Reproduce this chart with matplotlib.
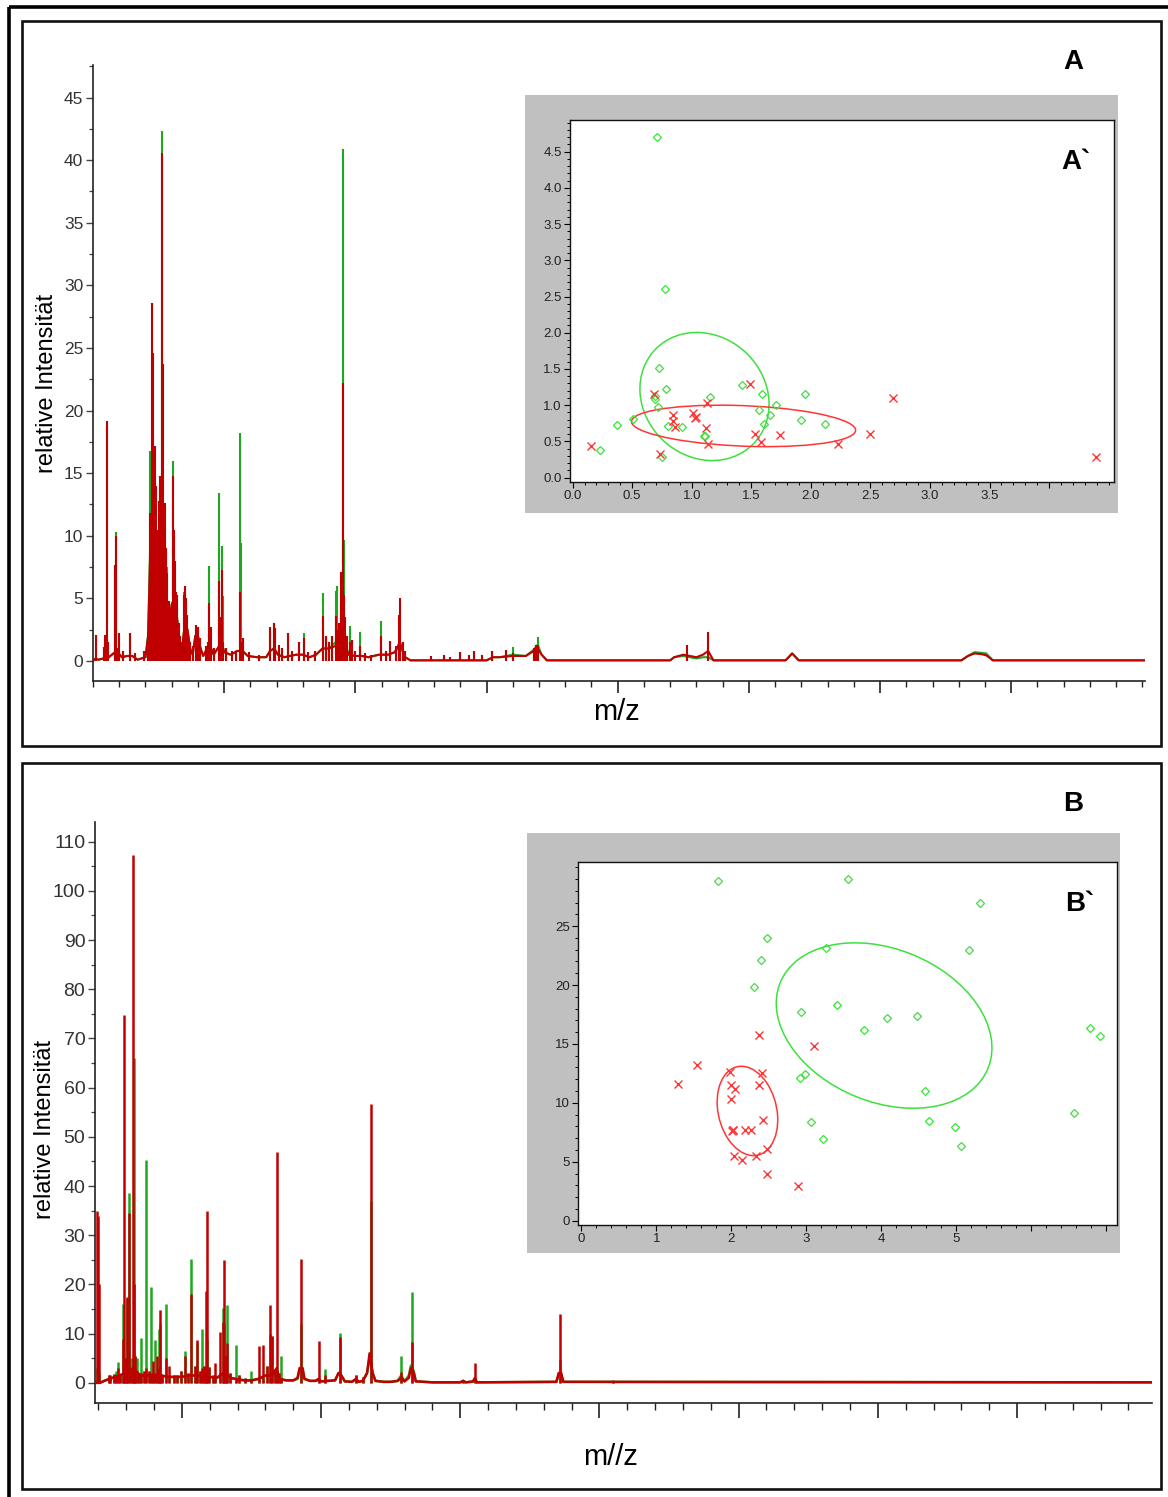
import numpy as np
import matplotlib
matplotlib.use("Agg")
import matplotlib.pyplot as plt
from matplotlib.patches import Rectangle, Ellipse
import matplotlib.transforms as transforms
from matplotlib.ticker import MultipleLocator

plt.rcParams['font.family'] = ['Liberation Sans', 'DejaVu Sans']

# ------------------------------------------------------------------ data
# Panel A spectrum: stick peaks (m/z, green height, red height)
a_peak_mz = [102.5, 108.1, 109.3, 110.6, 111.8, 116.9, 117.6, 118.6, 119.9, 123.2,
             128.2, 132.0, 138.8, 142.1, 143.3, 144.6, 145.8, 146.6, 147.4, 148.1,
             148.9, 149.6, 150.4, 151.4, 152.6, 153.7, 154.7, 155.4, 156.2, 157.2,
             158.2, 159.2, 160.7, 161.5, 162.2, 163.2, 164.2, 165.2, 166.5, 167.8,
             169.3, 170.3, 171.0, 171.8, 172.8, 174.1, 176.1, 178.6, 180.4, 181.9,
             186.1, 187.7, 188.7, 189.9, 192.4, 195.7, 197.0, 198.2, 199.2, 201.3,
             206.3, 208.8, 212.1, 213.1, 214.4, 218.9, 226.4, 235.3, 237.8, 239.0,
             241.6, 244.1, 248.6, 251.6, 256.7, 261.2, 264.2, 269.3, 275.1, 277.3,
             279.8, 282.4, 284.9, 285.9, 287.7, 289.4, 290.7, 291.4, 292.4, 293.9,
             296.2, 297.7, 299.5, 303.3, 307.0, 312.1, 319.6, 323.4, 326.4, 331.0,
             333.5, 334.3, 336.0, 337.8, 357.4, 367.5, 372.5, 380.0, 386.4, 390.2,
             396.5, 404.0, 415.0, 420.0, 436.0, 438.0, 439.0, 553.0, 569.0]
a_peak_green = [2.1, 1.1, 1.5, 1.5, 1.5, 7.7, 10.3, 1.0, 2.2, 0.8,
                2.2, 0.6, 0.8, 2.2, 16.8, 15.0, 15.8, 12.5, 14.0, 9.0,
                10.2, 10.5, 9.0, 14.8, 42.3, 12.0, 12.5, 9.0, 7.5, 4.5,
                4.8, 4.0, 16.0, 10.0, 7.5, 5.5, 5.3, 3.0, 2.0, 1.5,
                5.5, 6.0, 5.0, 3.7, 2.2, 1.5, 1.2, 2.9, 2.7, 1.8,
                1.2, 1.5, 7.6, 2.7, 1.0, 13.4, 3.5, 9.2, 5.2, 1.0,
                0.8, 0.8, 18.2, 9.4, 1.8, 0.7, 0.5, 2.7, 3.0, 2.6,
                1.3, 1.0, 2.2, 0.8, 1.5, 2.2, 0.7, 0.8, 5.4, 2.0,
                1.5, 2.0, 5.6, 6.0, 3.0, 7.1, 40.9, 9.7, 3.5, 2.0,
                2.8, 1.7, 0.8, 2.3, 0.6, 0.5, 3.2, 0.8, 1.6, 1.2,
                1.4, 1.3, 1.5, 0.8, 0.4, 0.5, 0.3, 0.7, 0.5, 0.8,
                0.5, 0.8, 0.9, 1.1, 1.0, 1.3, 1.9, 0.6, 0.4]
a_peak_red = [2.1, 1.1, 2.1, 19.2, 1.5, 7.7, 10.0, 1.0, 2.2, 0.8,
              2.2, 0.6, 0.8, 2.2, 11.8, 28.6, 24.6, 15.0, 17.2, 14.0,
              10.0, 10.5, 12.8, 14.8, 40.6, 23.7, 12.6, 9.0, 7.0, 4.5,
              4.8, 4.0, 14.8, 10.5, 8.0, 5.5, 5.3, 3.0, 2.0, 1.5,
              5.3, 6.0, 5.0, 3.7, 2.2, 1.5, 1.2, 2.9, 2.7, 1.8,
              1.2, 1.5, 4.6, 2.7, 1.0, 6.4, 3.5, 7.3, 1.5, 1.0,
              0.8, 0.8, 5.5, 1.5, 1.8, 0.7, 0.5, 2.7, 3.0, 2.6,
              1.3, 1.0, 2.2, 0.8, 1.5, 1.8, 0.7, 0.8, 3.6, 2.0,
              1.5, 2.0, 3.6, 2.5, 3.0, 7.1, 22.2, 5.3, 3.5, 2.0,
              1.5, 1.7, 0.8, 1.2, 0.6, 0.5, 2.0, 0.8, 1.6, 1.2,
              3.7, 5.0, 1.5, 0.8, 0.4, 0.5, 0.3, 0.7, 0.5, 0.8,
              0.5, 0.8, 0.9, 0.6, 1.0, 1.3, 1.3, 1.3, 2.3]

# Panel A spectrum: continuum trace (m/z, green level, red level)
a_base_mz = [100, 102, 104, 112, 118, 122, 126, 130, 134, 140, 142, 144, 146, 148,
             150, 152, 154, 156, 158, 160, 162, 164, 166, 168, 170, 172, 174, 176,
             178, 180, 182, 184, 186, 188, 190, 192, 195, 198, 200, 205, 210, 214,
             218, 225, 232, 235, 238, 241, 246, 250, 255, 260, 265, 270, 275, 280,
             285, 289, 292, 295, 300, 305, 310, 318, 325, 330, 334, 338, 342, 400,
             405, 410, 420, 430, 436, 439, 442, 446, 540, 543, 550, 560, 565, 569,
             573, 628, 633, 638, 762, 767, 772, 777, 781, 786, 902]
a_base_green = [0.0, 0.2, 0.1, 0.3, 0.8, 0.3, 0.4, 0.4, 0.1, 0.3, 2.0, 11.0, 12.0, 8.0,
                8.5, 11.0, 9.0, 5.0, 3.0, 4.5, 5.0, 3.5, 1.5, 1.0, 3.0, 2.5, 1.0, 0.5,
                2.0, 2.0, 1.0, 0.4, 0.8, 1.2, 1.0, 0.5, 1.0, 1.5, 0.7, 0.5, 0.8, 0.8,
                0.4, 0.3, 0.3, 0.8, 1.0, 0.5, 0.3, 0.4, 0.5, 0.5, 0.3, 0.5, 1.0, 1.0,
                1.5, 2.0, 1.5, 0.5, 0.4, 0.4, 0.3, 0.5, 0.5, 0.7, 1.2, 0.3, 0.05, 0.05,
                0.3, 0.3, 0.5, 0.4, 0.9, 1.3, 0.5, 0.05, 0.05, 0.3, 0.4, 0.2, 0.3, 0.3,
                0.05, 0.05, 0.6, 0.05, 0.05, 0.4, 0.7, 0.65, 0.6, 0.05, 0.05]
a_base_red = [0.0, 0.2, 0.1, 0.3, 0.8, 0.3, 0.4, 0.4, 0.1, 0.3, 2.0, 10.0, 12.0, 8.0,
              8.5, 10.0, 9.0, 5.0, 3.0, 4.5, 5.0, 3.5, 1.5, 1.0, 3.0, 2.5, 1.0, 0.5,
              2.0, 2.0, 1.0, 0.4, 0.8, 1.2, 1.0, 0.5, 1.0, 1.5, 0.7, 0.5, 0.8, 0.8,
              0.4, 0.3, 0.3, 0.8, 1.0, 0.5, 0.3, 0.4, 0.5, 0.5, 0.3, 0.5, 1.0, 1.0,
              1.2, 1.5, 1.2, 0.5, 0.4, 0.4, 0.3, 0.5, 0.5, 0.7, 1.5, 0.3, 0.05, 0.05,
              0.3, 0.3, 0.4, 0.4, 0.8, 1.0, 0.5, 0.05, 0.05, 0.3, 0.5, 0.3, 0.5, 0.8,
              0.05, 0.05, 0.6, 0.05, 0.05, 0.4, 0.6, 0.55, 0.45, 0.05, 0.05]

# Panel B spectrum: stick peaks
b_peak_mz = [139.0, 139.7, 140.4, 147.4, 148.6, 151.0, 152.9, 154.1, 155.7, 157.7,
             158.6, 159.6, 160.5, 162.0, 163.6, 164.8, 165.6, 166.5, 167.7, 169.1,
             170.8, 172.5, 174.4, 176.1, 178.0, 178.9, 180.6, 182.1, 183.3, 184.2,
             185.6, 188.5, 190.9, 194.0, 196.4, 199.0, 202.4, 204.3, 206.5, 209.1,
             210.8, 213.2, 214.4, 216.0, 217.2, 218.2, 219.4, 222.0, 223.9, 227.5,
             229.2, 230.4, 231.3, 232.5, 234.2, 239.0, 240.7, 245.5, 249.8, 255.5,
             258.1, 261.0, 263.4, 264.6, 266.7, 268.4, 269.4, 271.3, 285.6, 298.6,
             303.1, 313.6, 325.1, 330.4, 335.9, 357.2, 365.3, 402.2, 410.5, 471.6,
             510.0]
b_peak_green = [3.0, 3.0, 2.0, 1.5, 1.0, 1.8, 2.5, 4.3, 1.5, 16.0,
                5.0, 5.0, 17.0, 38.5, 5.0, 5.0, 66.0, 5.5, 5.0, 2.0,
                9.2, 2.5, 45.2, 2.5, 19.4, 2.0, 8.8, 2.0, 11.0, 12.0,
                1.5, 16.1, 1.5, 1.5, 1.5, 2.4, 6.4, 2.0, 25.2, 3.5,
                8.0, 2.5, 10.9, 3.5, 3.0, 9.0, 3.2, 1.5, 1.5, 2.0,
                15.2, 12.0, 5.5, 15.8, 2.0, 7.7, 1.5, 1.0, 2.4, 1.0,
                1.0, 3.5, 10.0, 9.5, 2.8, 2.0, 2.0, 5.5, 12.0, 1.0,
                2.8, 10.2, 1.6, 1.2, 37.0, 5.5, 18.5, 0.4, 1.0, 4.6,
                0.6]
b_peak_red = [35.0, 34.0, 20.0, 1.5, 1.5, 1.8, 1.5, 3.0, 1.5, 9.0,
              74.8, 5.0, 17.4, 34.5, 3.0, 107.3, 20.0, 5.5, 2.5, 2.0,
              2.0, 2.5, 3.0, 2.5, 2.0, 4.5, 2.0, 5.5, 3.0, 14.8,
              1.5, 5.0, 3.5, 1.5, 1.5, 2.4, 5.5, 2.0, 18.0, 3.5,
              8.8, 2.5, 3.0, 3.5, 18.7, 35.0, 3.2, 1.5, 4.0, 10.3,
              12.3, 25.0, 5.5, 8.0, 2.0, 0.8, 1.5, 1.0, 0.8, 7.4,
              7.7, 3.5, 15.8, 9.5, 2.8, 47.0, 2.0, 1.0, 25.1, 8.6,
              1.5, 9.3, 1.6, 1.2, 56.7, 2.3, 8.3, 0.4, 4.1, 14.0,
              0.1]

# Panel B spectrum: continuum trace
b_base_mz = [138, 141, 145, 150, 155, 160, 165, 170, 175, 180, 185, 190, 195, 200,
             205, 210, 215, 220, 225, 230, 235, 240, 245, 250, 255, 260, 265, 268,
             270, 275, 280, 283, 284.5, 286.7, 288, 292, 296, 298, 300, 310, 312.5,
             314.5, 317, 322, 325, 327, 330, 333, 334.8, 337, 339, 345, 350, 355,
             357.5, 360, 363, 364.5, 366.5, 368, 380, 400, 402, 404, 409, 410.5, 412,
             469, 470.7, 472.5, 474, 897]
b_base_green = [0, 0, 0.5, 1, 1.5, 2, 3, 1.5, 1.5, 1.5, 1.5, 1.2, 1.2, 1.2,
                1.5, 1.5, 1.5, 1.2, 1, 2, 1, 0.7, 0.5, 0.5, 0.8, 1.5, 1.5, 1.5,
                0.8, 0.5, 0.5, 0.8, 2.5, 2.5, 0.8, 0.4, 0.4, 0.5, 0.3, 0.5, 2,
                1.5, 0.3, 0.2, 0.6, 0.2, 0.4, 2, 5, 2, 0.4, 0.2, 0.2, 0.4,
                1.5, 0.3, 1.5, 3.5, 2.5, 0.3, 0.1, 0.1, 0.4, 0.1, 0.2, 0.6, 0.1,
                0.2, 1.5, 1.5, 0.2, 0.1]
b_base_red = [0, 0, 0.5, 1, 1.5, 2, 3, 1.5, 1.5, 1.5, 1.5, 1.2, 1.2, 1.2,
              1.5, 1.5, 1.5, 1.2, 1, 2, 1, 0.7, 0.5, 0.5, 0.8, 1.5, 1.5, 3,
              0.8, 0.5, 0.5, 1, 3, 3, 0.8, 0.4, 0.4, 0.8, 0.3, 0.5, 2,
              1.5, 0.3, 0.2, 0.8, 0.2, 0.4, 2, 6, 2, 0.4, 0.2, 0.2, 0.4,
              1, 0.3, 1, 3, 2, 0.3, 0.1, 0.1, 0.4, 0.1, 0.3, 1, 0.1,
              0.2, 2, 2, 0.2, 0.1]

# Inset A' scatter
a_green_x = [0.711, 0.775, 0.727, 0.785, 0.692, 0.69, 0.718, 0.51, 0.37, 0.226, 0.80, 0.92,
             0.75, 1.105, 1.11, 1.15, 1.426, 1.59, 1.563, 1.71, 1.655, 1.61, 1.914, 1.95, 2.12]
a_green_y = [4.70, 2.60, 1.51, 1.23, 1.12, 1.08, 0.97, 0.815, 0.73, 0.385, 0.71, 0.70,
             0.28, 0.57, 0.58, 1.11, 1.28, 1.16, 0.93, 1.00, 0.86, 0.74, 0.80, 1.16, 0.74]
a_red_x = [0.156, 0.68, 0.734, 0.84, 0.845, 0.858, 1.008, 1.037, 1.024, 1.126, 1.12, 1.14,
           1.493, 1.531, 1.585, 1.745, 2.227, 2.494, 2.686, 4.39]
a_red_y = [0.43, 1.15, 0.32, 0.86, 0.78, 0.70, 0.89, 0.84, 0.82, 1.03, 0.68, 0.47,
           1.29, 0.60, 0.49, 0.59, 0.46, 0.60, 1.10, 0.29]
# ellipse: centre x, centre y, half-extent x, half-extent y, correlation
a_green_ellipse = [1.107, 1.12, 0.542, 0.884, -0.12]
a_red_ellipse = [1.435, 0.714, 0.941, 0.286, -0.21]

# Inset B' scatter
b_green_x = [1.814, 3.557, 5.315, 2.47, 3.267, 5.163, 2.393, 2.307, 2.932, 3.41, 3.77, 4.08,
             4.477, 6.78, 6.91, 2.917, 2.983, 4.578, 3.059, 3.227, 4.639, 4.985, 5.066, 6.565]
b_green_y = [28.79, 29.02, 26.98, 23.95, 23.13, 22.93, 22.14, 19.79, 17.72, 18.29, 16.17, 17.19,
             17.41, 16.39, 15.71, 12.09, 12.46, 10.99, 8.38, 6.94, 8.49, 7.93, 6.34, 9.17]
b_red_x = [1.29, 1.545, 2.363, 3.105, 1.977, 1.992, 2.048, 1.992, 2.408, 2.363, 2.414,
           2.005, 2.015, 2.022, 2.175, 2.266, 2.47, 2.038, 2.144, 2.332, 2.48, 2.891]
b_red_y = [11.61, 13.22, 15.77, 14.86, 12.60, 11.55, 11.16, 10.33, 12.57, 11.55, 8.58,
           7.62, 7.70, 7.66, 7.73, 7.73, 6.09, 5.49, 5.18, 5.46, 3.96, 2.92]
b_green_ellipse = [4.035, 16.56, 1.438, 7.02, -0.27]
b_red_ellipse = [2.213, 9.31, 0.404, 3.79, -0.20]

# ------------------------------------------------------------------ style
W, H = 1168, 1497
SPEC_GREEN = '#1ea81e'
SPEC_RED = '#c00000'
PT_GREEN = '#3ee03e'
PT_RED = '#ff3535'
TICKC = '#333333'

fig = plt.figure(figsize=(W / 100, H / 100), dpi=100)
fig.patch.set_facecolor('white')


def px_axes(x0, y0, x1, y1, **kw):
    return fig.add_axes([x0 / W, 1 - y1 / H, (x1 - x0) / W, (y1 - y0) / H], **kw)


# background frames
bg = fig.add_axes([0, 0, 1, 1], zorder=-10)
bg.set_xlim(0, W)
bg.set_ylim(H, 0)
bg.axis('off')
bg.add_patch(Rectangle((9, 7), 1200, 1520, fill=False, lw=2.6, ec='black'))
bg.add_patch(Rectangle((22, 21), 1139, 725, fill=False, lw=1.9, ec='#111111'))
bg.add_patch(Rectangle((22, 763), 1139, 726, fill=False, lw=1.9, ec='#111111'))


def spectrum(ax, pmz, pg, pr, bmz, bg_, br, lw):
    ax.plot(bmz, bg_, color=SPEC_GREEN, lw=lw, zorder=2)
    ax.vlines(pmz, 0, pg, colors=SPEC_GREEN, lw=lw, zorder=2)
    ax.plot(bmz, br, color=SPEC_RED, lw=lw, zorder=3)
    ax.vlines(pmz, 0, pr, colors=SPEC_RED, lw=lw, zorder=3)


def style_main(ax, ylab_size, xmaj_len, xmin_len):
    ax.set_facecolor('none')
    for s in ['top', 'right']:
        ax.spines[s].set_visible(False)
    for s in ['left', 'bottom']:
        ax.spines[s].set_color('#222222')
        ax.spines[s].set_linewidth(1.2)
    ax.set_xticks([200, 300, 400, 500, 600, 700, 800])
    ax.xaxis.set_minor_locator(MultipleLocator(20))
    ax.tick_params(axis='x', which='major', direction='out', length=xmaj_len, width=1.2,
                   color='#222222', labelbottom=False)
    ax.tick_params(axis='x', which='minor', direction='out', length=xmin_len, width=1.0,
                   color='#222222')
    ax.tick_params(axis='y', which='major', direction='out', length=5, width=1.0,
                   color='#444444', labelsize=ylab_size, labelcolor=TICKC, pad=2)
    ax.tick_params(axis='y', which='minor', direction='out', length=3, width=0.9,
                   color='#444444')


# ---------------- Panel A main spectrum
axA = px_axes(93, 65, 1145, 681)
spectrum(axA, a_peak_mz, a_peak_green, a_peak_red, a_base_mz, a_base_green, a_base_red, 1.5)
axA.set_xlim(100, 902)
axA.set_ylim(-1.6, 47.6)
axA.set_yticks(np.arange(0, 46, 5))
axA.yaxis.set_minor_locator(MultipleLocator(2.5))
style_main(axA, 12.5, 8.5, 4)

# ---------------- Panel B main spectrum
axB = px_axes(95, 822, 1152, 1403)
spectrum(axB, b_peak_mz, b_peak_green, b_peak_red, b_base_mz, b_base_green, b_base_red, 1.8)
axB.set_xlim(137.5, 897)
axB.set_ylim(-4.1, 114)
axB.set_yticks(np.arange(0, 111, 10))
axB.yaxis.set_minor_locator(MultipleLocator(5))
style_main(axB, 14, 10.5, 5)

# axis titles / panel labels
fig.text(47 / W, 1 - 383 / H, 'relative Intensität', rotation=90, ha='center', va='center', fontsize=17)
fig.text(45 / W, 1 - 1129 / H, 'relative Intensität', rotation=90, ha='center', va='center', fontsize=17)
fig.text(616 / W, 1 - 712 / H, 'm/z', ha='center', va='center', fontsize=21)
fig.text(611 / W, 1 - 1457 / H, 'm//z', ha='center', va='center', fontsize=21)
fig.text(1073 / W, 1 - 62 / H, 'A', ha='center', va='center', fontsize=20, fontweight='bold')
fig.text(1073 / W, 1 - 804 / H, 'B', ha='center', va='center', fontsize=20, fontweight='bold')


# ---------------- insets
def gray_box(x0, y0, x1, y1):
    g = px_axes(x0, y0, x1, y1)
    g.set_facecolor('#c0c0c0')
    for s in g.spines.values():
        s.set_visible(False)
    g.set_xticks([])
    g.set_yticks([])
    return g


def conf_ellipse(ax, params, color):
    cx, cy, hx, hy, rho = params
    e = Ellipse((0, 0), width=2 * np.sqrt(1 + rho), height=2 * np.sqrt(1 - rho), angle=45,
                facecolor='none', edgecolor=color, lw=1.1, zorder=3)
    e.set_transform(transforms.Affine2D().scale(hx, hy).translate(cx, cy) + ax.transData)
    ax.add_patch(e)


def style_inset(ax):
    ax.set_facecolor('white')
    for s in ax.spines.values():
        s.set_color('#111111')
        s.set_linewidth(1.0)
    ax.tick_params(which='major', direction='out', length=4, width=0.8, labelsize=9.5,
                   labelcolor='#222222', pad=2)
    ax.tick_params(which='minor', direction='out', length=2.2, width=0.7)
    ax.tick_params(top=False, right=False)


gray_box(525, 95, 1118, 513)
insA = px_axes(570, 120, 1114, 482)
insA.set_xlim(-0.022, 4.545)
insA.set_ylim(-0.06, 4.936)
insA.set_xticks(np.arange(0, 4.01, 0.5))
insA.set_xticklabels(['0.0', '0.5', '1.0', '1.5', '2.0', '2.5', '3.0', '3.5', ''])
insA.set_yticks(np.arange(0, 4.51, 0.5))
insA.set_yticklabels(['0.0', '0.5', '1.0', '1.5', '2.0', '2.5', '3.0', '3.5', '4.0', '4.5'])
insA.xaxis.set_minor_locator(MultipleLocator(0.1))
insA.yaxis.set_minor_locator(MultipleLocator(0.1))
style_inset(insA)
conf_ellipse(insA, a_green_ellipse, PT_GREEN)
conf_ellipse(insA, a_red_ellipse, PT_RED)
insA.plot(a_green_x, a_green_y, ls='none', marker='D', ms=4.2, mfc='none', mec=PT_GREEN, mew=0.9, zorder=4)
insA.plot(a_red_x, a_red_y, ls='none', marker='x', ms=6, mec=PT_RED, mew=1.0, zorder=4)
insA.text(0.93, 0.885, 'A`', transform=insA.transAxes, ha='center', va='center', fontsize=20, fontweight='bold')

gray_box(527, 833, 1120, 1253)
insB = px_axes(578, 862, 1117, 1225)
insB.set_xlim(-0.046, 7.14)
insB.set_ylim(-0.37, 30.44)
insB.set_xticks(np.arange(0, 7.01, 1))
insB.set_xticklabels(['0', '1', '2', '3', '4', '5', '', ''])
insB.set_yticks(np.arange(0, 25.1, 5))
insB.xaxis.set_minor_locator(MultipleLocator(0.2))
insB.yaxis.set_minor_locator(MultipleLocator(1))
style_inset(insB)
conf_ellipse(insB, b_green_ellipse, PT_GREEN)
conf_ellipse(insB, b_red_ellipse, PT_RED)
insB.plot(b_green_x, b_green_y, ls='none', marker='D', ms=4.2, mfc='none', mec=PT_GREEN, mew=0.9, zorder=4)
insB.plot(b_red_x, b_red_y, ls='none', marker='x', ms=6, mec=PT_RED, mew=1.0, zorder=4)
insB.text(0.93, 0.885, 'B`', transform=insB.transAxes, ha='center', va='center', fontsize=20, fontweight='bold')

fig.savefig('out.png', dpi=100, facecolor='white')
